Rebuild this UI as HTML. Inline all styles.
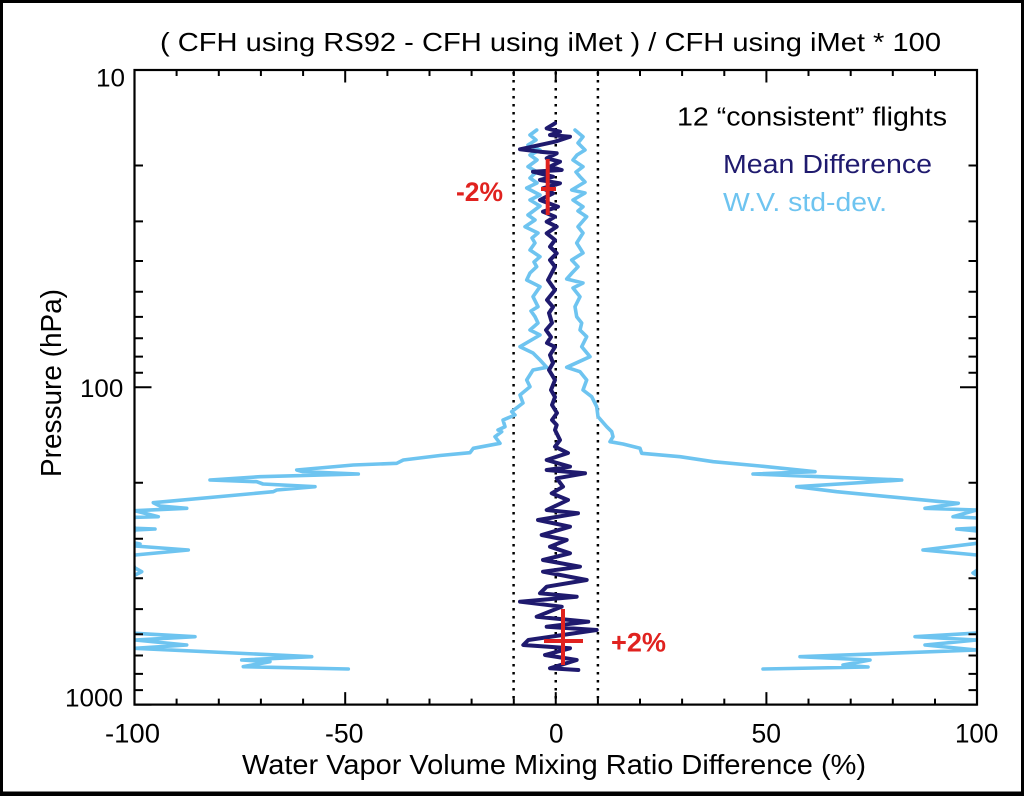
<!DOCTYPE html>
<html><head><meta charset="utf-8"><style>
html,body{margin:0;padding:0;background:#fff;}
svg{display:block;}
text{font-family:"Liberation Sans",Arial,sans-serif;}
</style></head><body>
<svg width="1024" height="796" viewBox="0 0 1024 796" xmlns="http://www.w3.org/2000/svg">
<rect x="0" y="0" width="1024" height="796" fill="#fff"/>
<rect x="1.5" y="1.5" width="1021" height="791.5" fill="none" stroke="#000" stroke-width="3"/>
<line x1="0" y1="794.5" x2="1024" y2="794.5" stroke="#000" stroke-width="3"/>

<!-- title -->
<text x="160" y="51" font-size="26" textLength="781" lengthAdjust="spacingAndGlyphs" fill="#000">( CFH using RS92 - CFH using iMet ) / CFH using iMet * 100</text>

<defs><clipPath id="pc"><rect x="134.5" y="70" width="842.5" height="635"/></clipPath></defs>

<!-- dotted reference lines -->
<g stroke="#000" stroke-width="2.5" stroke-dasharray="2.5 5.5">
<line x1="513.6" y1="72" x2="513.6" y2="704"/>
<line x1="555.75" y1="72" x2="555.75" y2="704"/>
<line x1="597.9" y1="72" x2="597.9" y2="704"/>
</g>

<g clip-path="url(#pc)" fill="none" stroke-linejoin="round" stroke-linecap="round">
<!-- std dev left -->
<polyline stroke="#6ec4f0" stroke-width="3.6" points="536.7,130 530,135 536,140 528,145 540,150 530,155 537,160 528,166.7 536.7,171.7 530,178 537,183 526.7,188 540,195 530,200 540,206 528,215 535,220 525,226.7 538,233 532,238 535,243 530,250 540,256.7 534,262 536.7,266.7 530,273 526.7,280 540,286.7 533,296.7 538,306.7 531,311 535,316.7 538,323 530,330 540,335 520,346.7 533,353 540,360 546.7,367.3 533,370 526.7,380 530,386.7 520,395 523,403 511.7,411.7 515,415 503,420 505,426.7 498,430 501.7,431.7 495,436.7 500,443.3 473.3,448.3 470,452.7 440,455.5 403.3,460 396.7,463.3 353.3,465 296.7,470 303,471.7 358.3,474 260,476.7 210,480 256.7,481.7 263,484 315,486.7 276.7,490 273.3,491.7 153.3,502.7 160,506 186.7,508.3 135,510.7 158.3,516.7 135,517.3 130,522 135,528.3 155,529 135,530 130,540 135,543 140,544 135,546 188.3,550 135,555 130,560 135,568 141.7,571.7 135,575 100,600 135,633.3 195,636.7 135,640 186.7,645 135,648.3 311.7,656.7 241.7,660 270,661.7 243.3,666.7 348.3,669"/>
<!-- std dev right -->
<polyline stroke="#6ec4f0" stroke-width="3.6" points="575,130 583,136.7 578,143 585,150 577,155 573,160 583,166.7 576,172 580,176.7 585,182 571.7,190 585,193 573,200 583,206.7 578,211 586.7,216.7 578,226.7 583,233 576.7,243 583,253 571.7,260 578,266.7 572,273 566.7,279 583,283 573,288 580,296.7 575,306.7 576.7,316.7 581.7,323 580,330 586.7,336.7 581.7,346.7 590,356.7 566.7,367.3 580,371.7 586.7,380 583,390 591.7,396.7 596.7,406.7 598,416.7 606.7,426.7 611.7,431.7 613,436.7 610,441.7 623,444 640,448.3 641.7,453.3 680,456.7 713.3,461.7 760,466 815,471.7 753,474 901.7,480 796.7,486.7 836.7,491.7 958.3,503.3 925,508.3 976.7,510 953,516.7 977,518 985,525 977,528 956.7,529 977,531 985,538 977,543.3 923,550 977,555 985,565 973,573 985,580 990,610 977,633 915,636.7 977,640 925,645 977,650 800,656.7 870,660 843,665 868,667 763,669"/>
<!-- mean difference -->
<polyline stroke="#1f1a6e" stroke-width="4" points="555,123.3 546.7,128.3 560,131.7 550,135 570,136.7 555,141.7 520,149.3 540,151.7 556.7,153.3 546.7,158.3 560,161.7 550,166.7 561.7,170 533,171.7 553,176.7 540,180 560,183.3 543,188.3 553,193.3 540,200 558,206.7 543,211.7 555,216.7 546.7,221.7 556.7,226.7 546.7,233.3 555,240 550,246.7 556.7,253.3 550,260 555,266.7 548,280 555,290 547,300 553,307 549,313 552,323 546,330 551,337 547,343 555,347 550,355 553,363 549,370 555,380 551,390 555,397 552,405 557,413 552,420 556.7,425 555,430 560,440 555,446.7 568,453 546.7,460 570,466.7 546.7,470 585,473.3 556.7,478.3 563,486.7 551.7,493.3 568,500 546.7,510 578,513.3 538,520 570,526.7 541.7,535 566.7,540 550,546.7 570,553.3 543,560 580,566.7 543,571.7 586.7,580 546.7,586.7 540,593.3 576.7,596.7 520,601.7 561.7,606.7 536.7,616.7 588.3,621.7 546.7,626.7 596.7,630 528.3,640 523.3,645 570,648.3 545,655 576.7,660 550,668.3 578.3,670"/>
</g>

<!-- red crosses -->
<g stroke="#e0221f" stroke-width="4">
<line x1="547.7" y1="159" x2="547.7" y2="215"/>
<line x1="541" y1="189" x2="556" y2="189"/>
<line x1="563" y1="609" x2="563" y2="665"/>
<line x1="544" y1="641" x2="583" y2="641"/>
</g>
<text x="456" y="201" font-size="27" font-weight="bold" fill="#e0221f" textLength="47" lengthAdjust="spacingAndGlyphs">-2%</text>
<text x="611" y="651.5" font-size="27" font-weight="bold" fill="#e0221f" textLength="55" lengthAdjust="spacingAndGlyphs">+2%</text>

<!-- axes box -->
<rect x="134.5" y="70" width="842.5" height="634.6" fill="none" stroke="#000" stroke-width="2.2"/>

<!-- ticks -->
<g stroke="#000" stroke-width="2">
<path d="M134.5 704.6v-12.5M176.6 704.6v-6M218.8 704.6v-6M260.9 704.6v-6M303.1 704.6v-6M345.2 704.6v-12.5M387.4 704.6v-6M429.5 704.6v-6M471.6 704.6v-6M513.8 704.6v-6M555.75 704.6v-12.5M597.9 704.6v-6M640 704.6v-6M682.1 704.6v-6M724.3 704.6v-6M766.4 704.6v-12.5M808.5 704.6v-6M850.7 704.6v-6M892.8 704.6v-6M935 704.6v-6M977 704.6v-12.5"/>
<path d="M134.5 70v12.5M176.6 70v6M218.8 70v6M260.9 70v6M303.1 70v6M345.2 70v12.5M387.4 70v6M429.5 70v6M471.6 70v6M513.8 70v6M555.75 70v12.5M597.9 70v6M640 70v6M682.1 70v6M724.3 70v6M766.4 70v12.5M808.5 70v6M850.7 70v6M892.8 70v6M935 70v6M977 70v12.5"/>
<path d="M134.5 70h17M134.5 165.5h8.5M134.5 221.4h8.5M134.5 261h8.5M134.5 291.8h8.5M134.5 316.9h8.5M134.5 338.2h8.5M134.5 356.6h8.5M134.5 372.8h8.5M134.5 387.3h17M134.5 482.8h8.5M134.5 538.7h8.5M134.5 578.3h8.5M134.5 609.1h8.5M134.5 634.2h8.5M134.5 655.5h8.5M134.5 673.9h8.5M134.5 690.1h8.5M134.5 704.6h17"/>
<path d="M977 70h-17M977 165.5h-8.5M977 221.4h-8.5M977 261h-8.5M977 291.8h-8.5M977 316.9h-8.5M977 338.2h-8.5M977 356.6h-8.5M977 372.8h-8.5M977 387.3h-17M977 482.8h-8.5M977 538.7h-8.5M977 578.3h-8.5M977 609.1h-8.5M977 634.2h-8.5M977 655.5h-8.5M977 673.9h-8.5M977 690.1h-8.5M977 704.6h-17"/>
</g>

<!-- y tick labels -->
<g font-size="25" fill="#000">
<text x="96" y="86.5" textLength="29" lengthAdjust="spacingAndGlyphs">10</text>
<text x="80" y="397" textLength="43.3" lengthAdjust="spacingAndGlyphs">100</text>
<text x="65" y="706.5" textLength="58" lengthAdjust="spacingAndGlyphs">1000</text>
</g>
<!-- x tick labels -->
<g font-size="26.5" fill="#000">
<text x="105" y="742.5" textLength="55" lengthAdjust="spacingAndGlyphs">-100</text>
<text x="325" y="742.5" textLength="38.5" lengthAdjust="spacingAndGlyphs">-50</text>
<text x="549" y="742.5" textLength="14.5" lengthAdjust="spacingAndGlyphs">0</text>
<text x="751.5" y="742.5" textLength="29.5" lengthAdjust="spacingAndGlyphs">50</text>
<text x="955" y="742.5" textLength="43.3" lengthAdjust="spacingAndGlyphs">100</text>
</g>

<!-- axis titles -->
<text x="242" y="774" font-size="27.5" fill="#000" textLength="624" lengthAdjust="spacingAndGlyphs">Water Vapor Volume Mixing Ratio Difference (%)</text>
<text transform="translate(61,383) rotate(-90)" text-anchor="middle" font-size="28.5" fill="#000" textLength="188" lengthAdjust="spacingAndGlyphs">Pressure (hPa)</text>

<!-- legend -->
<text x="677" y="125.5" font-size="25.5" fill="#000" textLength="270" lengthAdjust="spacingAndGlyphs">12 “consistent” flights</text>
<text x="723" y="173" font-size="25.5" fill="#1f1a6e" textLength="209" lengthAdjust="spacingAndGlyphs">Mean Difference</text>
<text x="723" y="211" font-size="25.5" fill="#6ec4f0" textLength="164" lengthAdjust="spacingAndGlyphs">W.V. std-dev.</text>
</svg>
</body></html>
